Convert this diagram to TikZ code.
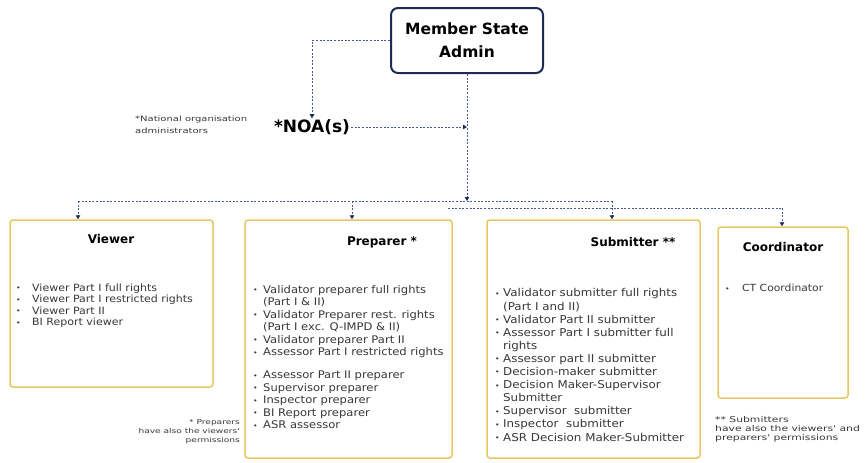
\documentclass[tikz,border=0pt]{standalone}
\usepackage{fontspec}
\setmainfont{DejaVu Sans}
\newfontfamily\notefont[FakeStretch=1.35]{DejaVu Sans}
\newfontfamily\listfont[FakeStretch=1.1]{DejaVu Sans}
\usetikzlibrary{arrows.meta}

\definecolor{navy}{HTML}{1F2B55}
\definecolor{linkblue}{HTML}{4B5896}
\definecolor{gold}{HTML}{E5C860}
\definecolor{ink}{HTML}{383838}

\tikzset{
  conn/.style={draw=linkblue, line width=0.9pt, dash pattern=on 2pt off 1.6pt},
  tip/.style={-{Triangle[length=4pt,width=4.5pt,color=navy]}},
  adminbox/.style={draw=navy, line width=2pt, rounded corners=7pt, fill=white,
    align=center, font=\fontsize{15.5}{23}\selectfont\bfseries},
  rolebox/.style={draw=gold, line width=1.5pt, rounded corners=3pt, fill=white},
  roletitle/.style={font=\fontsize{12}{14}\selectfont\bfseries, text=black, inner sep=0},
  rolelist/.style={anchor=north west, align=left, inner sep=0, text=ink},
  note/.style={inner sep=0, text=ink},
}
% small list bullet followed by a fixed indent
\newcommand{\bul}[1]{\makebox[#1][l]{\hspace*{1pt}\raisebox{0.6pt}{\fontsize{7}{7}\selectfont\textbullet}}}

\begin{document}
\begin{tikzpicture}[x=1pt,y=-1pt]
  \useasboundingbox (0,0) rectangle (865,463);

  % top level administrator
  \node[adminbox, minimum width=152pt, minimum height=65pt] (admin) at (467,40.5)
    {Member State\\Admin};

  % national organisation administrators
  \node[inner sep=1pt, font=\fontsize{17}{20}\selectfont\bfseries] (noa) at (312,127) {*NOA(s)};
  \node[note, anchor=north west, align=left, font=\notefont\fontsize{7.4}{12.5}\selectfont]
    (noanote) at (135,115.5) {*National organisation\\administrators};

  % role boxes
  \node[rolebox, minimum width=203pt, minimum height=167pt] (viewer) at (111.5,303.5) {};
  \node[rolebox, minimum width=207pt, minimum height=238pt] (preparer) at (348.5,339) {};
  \node[rolebox, minimum width=213pt, minimum height=238pt] (submitter) at (593.5,339) {};
  \node[rolebox, minimum width=130pt, minimum height=171pt] (coord) at (783,312.5) {};

  % box titles
  \node[roletitle] (tviewer) at (111,239) {Viewer};
  \node[roletitle] (tpreparer) at (382,242) {Preparer *};
  \node[roletitle] (tsubmitter) at (633,242) {Submitter **};
  \node[roletitle] (tcoord) at (783,247) {Coordinator};

  % role lists
  \node[rolelist, font=\listfont\fontsize{10}{11.5}\selectfont] (lviewer) at (15,283.5)
    {\bul{17pt}Viewer Part I full rights\\
     \bul{17pt}Viewer Part I restricted rights\\
     \bul{17pt}Viewer Part II\\
     \bul{17pt}BI Report viewer};

  \node[rolelist, font=\listfont\fontsize{10.5}{12.5}\selectfont] (lpreparer) at (252,285)
    {\bul{11pt}Validator preparer full rights\\
     \hspace*{11pt}(Part I \& II)\\
     \bul{11pt}Validator Preparer rest. rights\\
     \hspace*{11pt}(Part I exc. Q-IMPD \& II)\\
     \bul{11pt}Validator preparer Part II\\
     \bul{11pt}Assessor Part I restricted rights\\[10.5pt]
     \bul{11pt}Assessor Part II preparer\\
     \bul{11pt}Supervisor preparer\\
     \bul{11pt}Inspector preparer\\
     \bul{11pt}BI Report preparer\\
     \bul{11pt}ASR assessor};

  \node[rolelist, font=\listfont\fontsize{10.8}{13.1}\selectfont] (lsubmitter) at (494,288.5)
    {\bul{9pt}Validator submitter full rights\\
     \hspace*{9pt}(Part I and II)\\
     \bul{9pt}Validator Part II submitter\\
     \bul{9pt}Assessor Part I submitter full\\
     \hspace*{9pt}rights\\
     \bul{9pt}Assessor part II submitter\\
     \bul{9pt}Decision-maker submitter\\
     \bul{9pt}Decision Maker-Supervisor\\
     \hspace*{9pt}Submitter\\
     \bul{9pt}Supervisor\ \ submitter\\
     \bul{9pt}Inspector\ \ submitter\\
     \bul{9pt}ASR Decision Maker-Submitter};

  \node[rolelist, font=\listfont\fontsize{9.8}{12}\selectfont] (lcoord) at (724,284)
    {\bul{18pt}CT Coordinator};

  % footnotes
  \node[note, anchor=north east, align=right, font=\notefont\fontsize{6.7}{9}\selectfont]
    (prepnote) at (240,419.5) {* Preparers\\have also the viewers'\\permissions};
  \node[note, anchor=north west, align=left, font=\notefont\fontsize{8}{8.7}\selectfont]
    (subnote) at (715,416.5) {** Submitters\\have also the viewers' and\\preparers' permissions};

  % connector junctions
  \coordinate (busV) at (78,201);
  \coordinate (busP) at (352,201);
  \coordinate (busS) at (612,201);
  \coordinate (busA) at (467,201);
  \coordinate (busB) at (448,208);
  \coordinate (busC) at (782,208);

  % connectors
  \draw[conn, tip] (admin.west) -| (noa.north);
  \draw[conn, tip] (noa.east) -- (noa.east -| admin.south);
  \draw[conn, tip] (admin.south) -- (busA);
  \draw[conn] (busV) -- (busS);
  \draw[conn] (busB) -- (busC);
  \draw[conn, tip] (busV) -- (busV |- viewer.north);
  \draw[conn, tip] (busP) -- (busP |- preparer.north);
  \draw[conn, tip] (busS) -- (busS |- submitter.north);
  \draw[conn, tip] (busC) -- (busC |- coord.north);
\end{tikzpicture}
\end{document}
